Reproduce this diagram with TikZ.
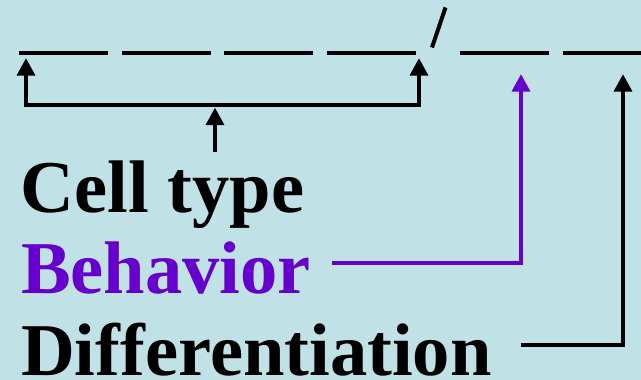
\documentclass[tikz,border=0pt]{standalone}
\usepackage{fontspec}
\setmainfont{Liberation Serif}
\usetikzlibrary{arrows.meta}
\definecolor{bgblue}{RGB}{192,226,230}
\definecolor{violet}{RGB}{102,0,204}
\tikzset{
  blank/.style={line width=3.5pt},
  pointer/.style={line width=4.7pt, -{Triangle[width=17.5pt,length=17.5pt]}},
  twopointer/.style={line width=4.7pt, {Triangle[width=17.5pt,length=17.5pt]}-{Triangle[width=17.5pt,length=17.5pt]}},
  label/.style={anchor=base west, inner sep=0pt, font=\fontsize{74.5}{80}\selectfont\bfseries},
}
\begin{document}
\begin{tikzpicture}[x=1pt,y=-1pt]
  % canvas
  \fill[bgblue] (0,0) rectangle (641,380);
  \useasboundingbox (0,0) rectangle (641,380);

  % the blanks of the code: four, a slash, then two more
  \coordinate (b1s) at (19,53);  \coordinate (b1e) at (108,53);
  \coordinate (b2s) at (122,53); \coordinate (b2e) at (211,53);
  \coordinate (b3s) at (224,53); \coordinate (b3e) at (313,53);
  \coordinate (b4s) at (327,53); \coordinate (b4e) at (416,53);
  \coordinate (b5s) at (460,53); \coordinate (b5e) at (549,53);
  \coordinate (b6s) at (563,53); \coordinate (b6e) at (650,53);
  \foreach \k in {1,...,6} \draw[blank] (b\k s) -- (b\k e);
  \coordinate (slA) at (432,47.5);
  \coordinate (slB) at (445.5,7.5);
  \draw[line width=4pt] (slA) -- (slB);

  % labels
  \node[label] (cell) at (20.5,212) {Cell type};
  \node[label, text=violet] (behav) at (21,293) {Behavior};
  \node[label] (diff) at (21,375) {Differentiation};

  % bracket over the first four blanks
  \coordinate (tipA) at (26,58);
  \coordinate (tipB) at (419,58);
  \coordinate (join) at (215,105);
  \draw[twopointer] (tipA) |- (join) -| (tipB);
  \coordinate (celltop) at (215,152);
  \coordinate (jointip) at (215,107.5);
  \draw[pointer] (celltop) -- (jointip);

  % behaviour pointer
  \coordinate (behstart) at (332,263);
  \coordinate (tip5) at (521,74);
  \draw[pointer, violet] (behstart) -| (tip5);

  % differentiation pointer
  \coordinate (diffstart) at (521,345);
  \coordinate (tip6) at (623,74);
  \draw[pointer] (diffstart) -| (tip6);
\end{tikzpicture}
\end{document}
